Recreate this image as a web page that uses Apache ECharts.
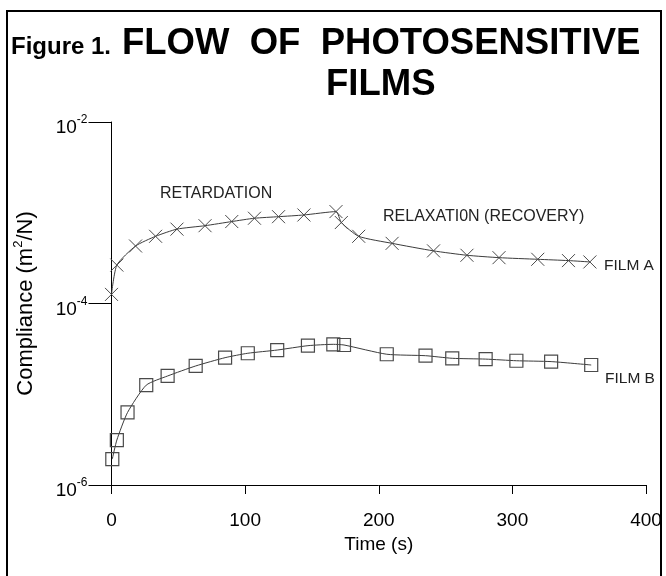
<!DOCTYPE html>
<html>
<head>
<meta charset="utf-8">
<script src="https://cdn.jsdelivr.net/npm/echarts@6/dist/echarts.min.js"></script>
<style>
  html, body { margin: 0; padding: 0; background: #fff; }
  #main { width: 666px; height: 576px; }
</style>
</head>
<body>
<div id="main"></div>
<script>
// time (s) and compliance (m2/N)
var timeA = [0, 4, 18, 33, 49, 70, 90, 107, 125, 144, 168, 172, 185, 210, 241, 266, 290, 319, 342, 358];
var complA = [1.26e-4, 2.65e-4, 4.3e-4, 5.5e-4, 6.6e-4, 7.2e-4, 8.0e-4, 8.7e-4, 9.05e-4, 9.45e-4,
              1.03e-3, 7.8e-4, 5.5e-4, 4.6e-4, 3.8e-4, 3.4e-4, 3.2e-4, 3.07e-4, 2.97e-4, 2.87e-4];
var timeB = [0.6, 4, 12, 26, 42, 63, 85, 102, 124, 147, 166, 174, 206, 235, 255, 280, 303, 329, 359];
var complB = [1.93e-6, 3.13e-6, 6.3e-6, 1.26e-5, 1.59e-5, 2.05e-5, 2.53e-5, 2.83e-5, 3.07e-5, 3.43e-5,
              3.55e-5, 3.49e-5, 2.76e-5, 2.66e-5, 2.49e-5, 2.44e-5, 2.34e-5, 2.29e-5, 2.1e-5];
var xTicks = [0, 100, 200, 300, 400];
var yTicks = [1e-6, 1e-4, 1e-2];

var chart = echarts.init(document.getElementById('main'));
var font = '"Liberation Sans", Arial, sans-serif';
var lineColor = '#3c3c3c';
var markColor = '#4a4a4a';

function pairs(xs, ys) {
    return xs.map(function (x, i) { return [x, ys[i]]; });
}

var option = {
    animation: false,
    backgroundColor: '#fff',
    textStyle: { fontFamily: font },
    grid: { left: 111.5, right: 20, top: 122, bottom: 91 },
    xAxis: {
        type: 'value',
        min: xTicks[0],
        max: xTicks[xTicks.length - 1],
        interval: 100,
        name: 'Time (s)',
        nameLocation: 'middle',
        nameGap: 50,
        nameTextStyle: { fontSize: 19, color: '#000', fontFamily: font },
        axisLine: { lineStyle: { color: '#000', width: 1 } },
        axisTick: { length: 9, lineStyle: { color: '#000' } },
        axisLabel: { fontSize: 19, color: '#000', margin: 26 },
        splitLine: { show: false }
    },
    yAxis: {
        type: 'log',
        logBase: 10,
        min: yTicks[0],
        max: yTicks[yTicks.length - 1],
        interval: 2,
        name: 'Compliance (m{s|2}/N)',
        nameLocation: 'middle',
        nameGap: 72,
        nameRotate: 90,
        nameTextStyle: {
            fontSize: 22, color: '#000', fontFamily: font,
            rich: { s: { fontSize: 13, padding: [0, 0, 15, 0], color: '#000' } }
        },
        axisLine: { show: true, lineStyle: { color: '#000', width: 1 } },
        axisTick: { length: 23, lineStyle: { color: '#000' } },
        axisLabel: {
            margin: 24,
            color: '#000',
            padding: [12, 0, 0, 0],
            formatter: function (v) {
                var e = Math.round(Math.log10(v));
                if (e % 2 !== 0) return '';
                return '{b|10}{s|' + e + '}';
            },
            rich: {
                b: { fontSize: 19, color: '#000', fontFamily: font },
                s: { fontSize: 12, color: '#000', fontFamily: font, padding: [0, 0, 16, 0] }
            }
        },
        splitLine: { show: false }
    },
    series: [
        {
            name: 'FILM A',
            type: 'line',
            data: pairs(timeA, complA),
            smooth: 0.2,
            symbol: 'path://M0,0L10,10M10,0L0,10',
            symbolSize: 13,
            lineStyle: { color: lineColor, width: 1 },
            itemStyle: { color: 'none', borderColor: markColor, borderWidth: 1 }
        },
        {
            name: 'FILM B',
            type: 'line',
            data: pairs(timeB, complB),
            smooth: 0.2,
            symbol: 'rect',
            symbolSize: 13,
            lineStyle: { color: lineColor, width: 1 },
            itemStyle: { color: 'none', borderColor: markColor, borderWidth: 1.2 }
        }
    ],
    graphic: [
        {
            type: 'rect',
            shape: { x: 7, y: 11, width: 654, height: 620 },
            style: { fill: 'none', stroke: '#000', lineWidth: 2 },
            silent: true
        },
        {
            type: 'text', x: 11, y: 35,
            style: { text: 'Figure 1.', font: 'bold 24px "Liberation Sans Narrow", "Liberation Sans", sans-serif', fill: '#000' }
        },
        {
            type: 'text', x: 122, y: 25,
            style: { text: 'FLOW  OF  PHOTOSENSITIVE', font: 'bold 36.5px ' + font, fill: '#000' }
        },
        {
            type: 'text', x: 326, y: 66,
            style: { text: 'FILMS', font: 'bold 36.5px ' + font, fill: '#000' }
        },
        {
            type: 'text', left: 160, top: 186,
            style: { text: 'RETARDATION', font: '16px ' + font, fill: '#222' }
        },
        {
            type: 'text', left: 383, top: 209,
            style: { text: 'RELAXATI0N (RECOVERY)', font: '16px ' + font, fill: '#222' }
        },
        {
            type: 'text', left: 604, top: 258,
            style: { text: 'FILM A', font: '15.5px ' + font, fill: '#222' }
        },
        {
            type: 'text', left: 605, top: 371,
            style: { text: 'FILM B', font: '15.5px ' + font, fill: '#222' }
        }
    ]
};

option && chart.setOption(option);
</script>
</body>
</html>
